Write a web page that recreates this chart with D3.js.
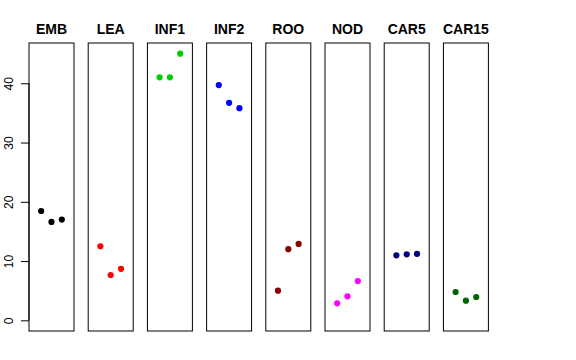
<!DOCTYPE html>
<html>
<head>
<meta charset="utf-8">
<script src="https://cdn.jsdelivr.net/npm/d3@7"></script>
<style>
  body { margin: 0; background: #fff; }
  svg { display: block; font-family: "Liberation Sans", Arial, sans-serif; }
</style>
</head>
<body>
<div class="chart"></div>
<script>
// one panel per tissue, three replicates each
const tissues = ['EMB', 'LEA', 'INF1', 'INF2', 'ROO', 'NOD', 'CAR5', 'CAR15'];
const colors = ['#000000', '#ff0000', '#00cd00', '#0000ff', '#8b0000', '#ff00ff', '#000080', '#006400'];
const replicates = [1, 2, 3];
const values = [
  [18.45, 16.6, 17.0],
  [12.5, 7.65, 8.7],
  [41.0, 41.0, 45.0],
  [39.7, 36.7, 35.8],
  [5.0, 12.0, 12.9],
  [2.87, 4.05, 6.64],
  [10.97, 11.14, 11.2],
  [4.78, 3.32, 3.94]
];
const yTicks = [0, 10, 20, 30, 40];

const svgWidth = 576, svgHeight = 360;
const plotTop = 43, plotBottom = 331;

const svg = d3.select(".chart")
  .append("svg")
  .attr("width", svgWidth)
  .attr("height", svgHeight);

const xBand = d3.scaleBand()
  .domain(tissues)
  .range([29, 488.4])
  .paddingInner(0.24)
  .paddingOuter(0);

const yScale = d3.scaleLinear()
  .domain([-1.8, 46.8])
  .range([plotBottom, plotTop]);

const xInner = d3.scaleLinear()
  .domain([-0.18, 4.18])
  .range([0, xBand.bandwidth()]);

// panels
const panels = svg.selectAll("g.panel")
  .data(tissues)
  .enter()
  .append("g")
  .classed("panel", true)
  .attr("transform", d => `translate(${xBand(d)}, 0)`);

panels.append("rect")
  .attr("x", 0)
  .attr("y", plotTop)
  .attr("width", xBand.bandwidth())
  .attr("height", plotBottom - plotTop)
  .attr("fill", "none")
  .attr("stroke", "#000")
  .attr("stroke-width", 1);

panels.append("text")
  .attr("x", xBand.bandwidth() / 2)
  .attr("y", 34)
  .attr("text-anchor", "middle")
  .attr("font-weight", "bold")
  .attr("font-size", "14px")
  .text(d => d);

panels.each(function(d, i) {
  d3.select(this).selectAll("circle")
    .data(values[i])
    .enter()
    .append("circle")
    .attr("cx", (v, j) => xInner(replicates[j]))
    .attr("cy", v => yScale(v))
    .attr("r", 3.1)
    .attr("fill", colors[i]);
});

// left axis, R style
const leftAxis = d3.axisLeft(yScale)
  .tickValues(yTicks)
  .tickSize(8)
  .tickSizeOuter(0)
  .tickPadding(0);

const yAxis = svg.append("g")
  .attr("transform", `translate(${xBand(tissues[0])}, 0)`)
  .call(leftAxis);

yAxis.select(".domain")
  .attr("d", `M0,${yScale(0)}V${yScale(40)}`);

yAxis.selectAll(".tick text")
  .attr("transform", "rotate(-90)")
  .attr("x", 0)
  .attr("y", -16)
  .attr("dy", 0)
  .attr("text-anchor", "middle")
  .attr("font-size", "12px")
  .attr("font-family", "Liberation Sans, Arial, sans-serif")
  .attr("fill", "#000");
</script>
</body>
</html>
